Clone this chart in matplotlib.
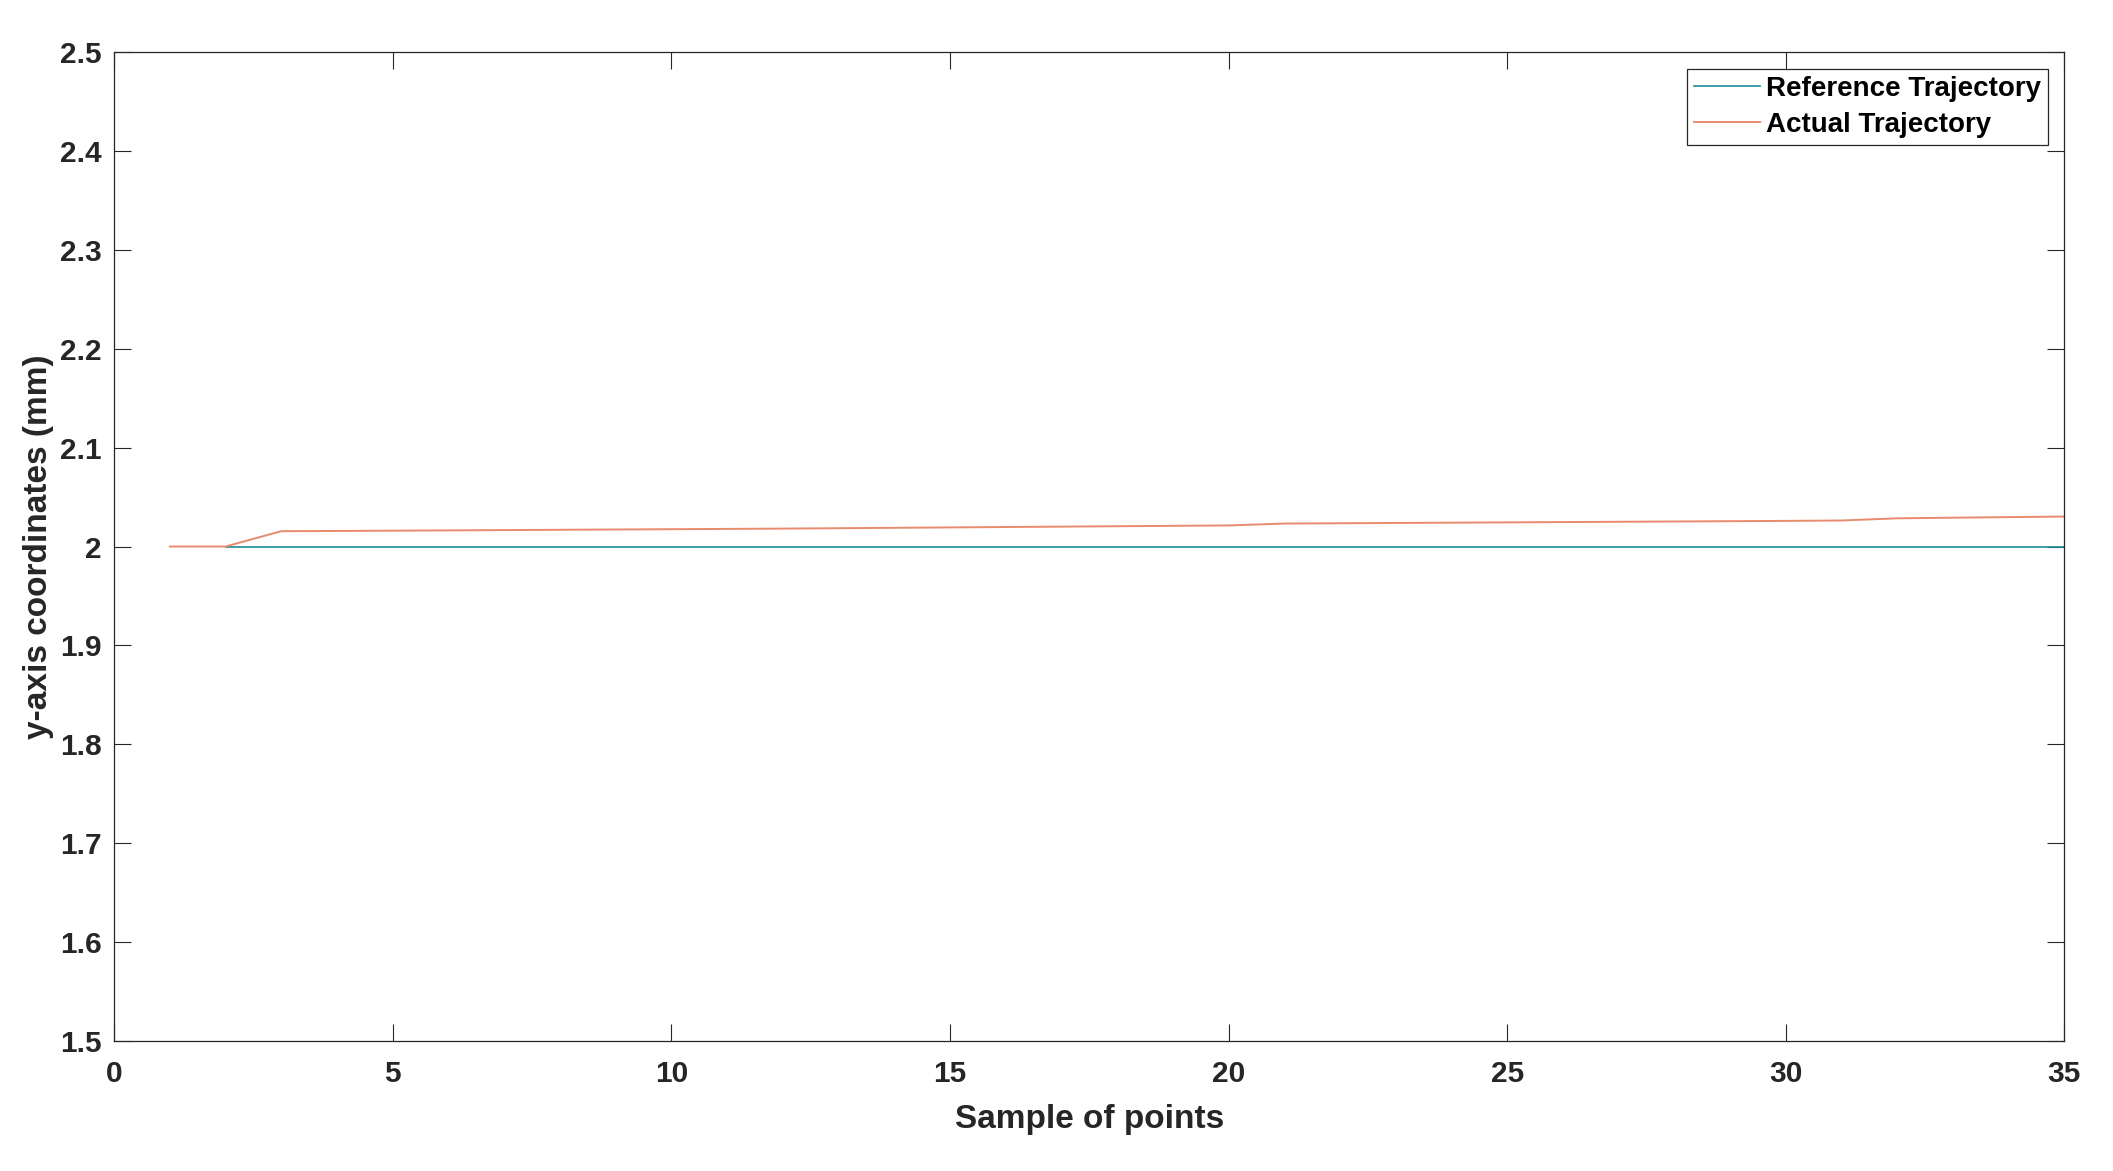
import matplotlib.pyplot as plt
import numpy as np

plt.rcParams['font.family'] = ['Liberation Sans', 'DejaVu Sans']

# sample indices and trajectories (mm)
ref_x = list(range(2, 36))
ref_y = [2.0] * len(ref_x)

act_x = list(range(1, 36))
act_y = [2.0, 2.0, 2.0155, 2.0157, 2.0160, 2.0163, 2.0166, 2.0169, 2.0172, 2.0175,
         2.0178, 2.0181, 2.0185, 2.0189, 2.0193, 2.0197, 2.0201, 2.0205, 2.0209, 2.0213,
         2.0232, 2.0235, 2.0238, 2.0241, 2.0244, 2.0247, 2.0250, 2.0253, 2.0256, 2.0259,
         2.0263, 2.0285, 2.0291, 2.0297, 2.0303]

x_ticks = [0, 5, 10, 15, 20, 25, 30, 35]
y_ticks = [1.5, 1.6, 1.7, 1.8, 1.9, 2.0, 2.1, 2.2, 2.3, 2.4, 2.5]
y_tick_labels = ['1.5', '1.6', '1.7', '1.8', '1.9', '2', '2.1', '2.2', '2.3', '2.4', '2.5']

fig = plt.figure(figsize=(21.13, 11.71), dpi=100)
ax = fig.add_axes([0.054, 0.111, 0.923, 0.8446])

ax.plot(ref_x, ref_y, color='#1b8c9c', lw=1.2, label='Reference Trajectory')
ax.plot(act_x, act_y, color='#e88b6e', lw=1.4, label='Actual Trajectory')

ax.set_xlim(0, 35)
ax.set_ylim(1.5, 2.5)
ax.set_xticks(x_ticks)
ax.set_yticks(y_ticks)
ax.set_yticklabels(y_tick_labels)

ax.tick_params(direction='in', length=12.5, width=0.8, top=True, right=True,
               labelsize=21.5, colors='#262626')
ax.tick_params(axis='x', pad=14)
ax.tick_params(axis='y', pad=9)
for lab in ax.get_xticklabels() + ax.get_yticklabels():
    lab.set_fontweight('bold')
for sp in ax.spines.values():
    sp.set_linewidth(0.9)
    sp.set_color('#262626')

ax.set_xlabel('Sample of points', fontsize=24, fontweight='bold', color='#262626', labelpad=11)
ax.set_ylabel('y-axis coordinates (mm)', fontsize=24, fontweight='bold', color='#262626', labelpad=4)

leg = ax.legend(loc='upper right', prop={'weight': 'bold', 'size': 20},
                fancybox=False, edgecolor='#262626', framealpha=1,
                borderaxespad=0.6, handlelength=2.4, handletextpad=0.2,
                labelspacing=0.38, borderpad=0.25)
leg.get_frame().set_linewidth(0.9)

fig.savefig('out.png', dpi=100, facecolor='white')
